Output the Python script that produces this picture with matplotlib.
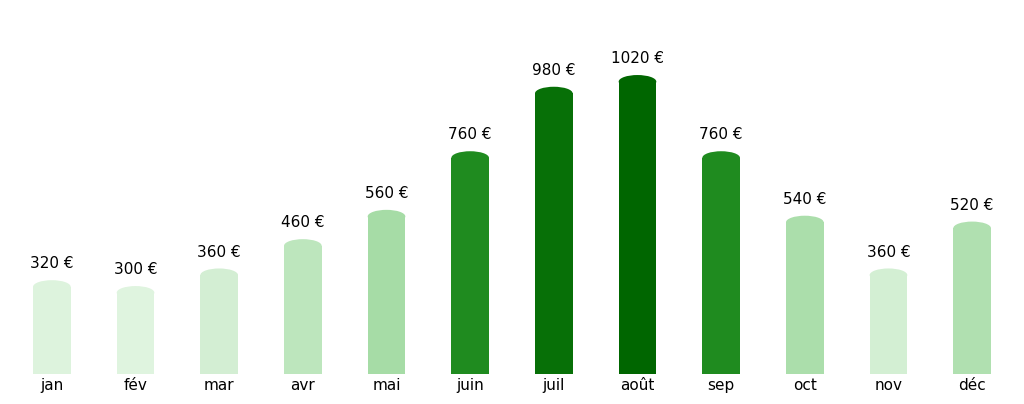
import matplotlib
matplotlib.use("Agg")
import matplotlib.pyplot as plt
from matplotlib.patches import Ellipse

months = ["jan","fév","mar","avr","mai","juin","juil","août","sep","oct","nov","déc"]
values = [320,300,360,460,560,760,980,1020,760,540,360,520]
colors = ["#ddf3dd","#dff4df","#d3eed3","#bde6bd","#a6dca6","#1f8b1f","#077007","#006600","#1f8b1f","#abdeab","#d3efd3","#b0e0b0"]

fig = plt.figure(figsize=(10.24,4.04), dpi=100)
ax = fig.add_axes([0.0098,0.0743,0.9804,0.9257])
w = 0.45
cap = 45
for i,(v,c) in enumerate(zip(values,colors)):
    ax.bar(i, v-cap/2, width=w, color=c, linewidth=0)
    ax.add_patch(Ellipse((i, v-cap/2), w, cap, color=c, linewidth=0))
    ax.text(i, v+30, f"{v} €", ha="center", va="bottom", fontsize=11)
ax.set_xlim(-0.5,11.5)
ax.set_ylim(0,1276)
ax.set_xticks(range(12))
ax.set_xticklabels(months, fontsize=11)
ax.tick_params(axis="x", length=0, pad=3)
ax.set_yticks([])
for s in ax.spines.values():
    s.set_visible(False)
fig.savefig("out.png", dpi=100)
